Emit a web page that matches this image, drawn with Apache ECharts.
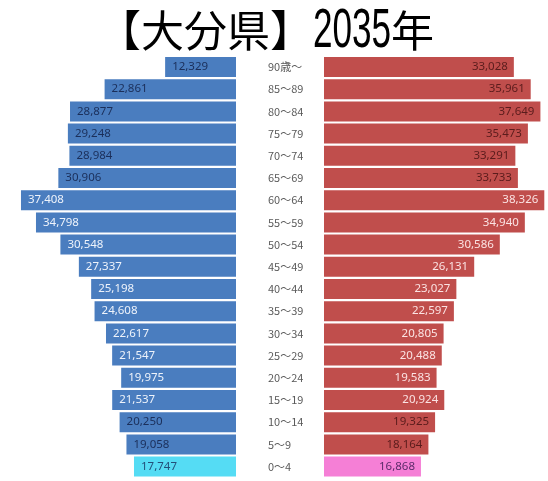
<!DOCTYPE html>
<html>
<head>
<meta charset="utf-8">
<script src="https://cdn.jsdelivr.net/npm/echarts@6/dist/echarts.min.js"></script>
<style>
  html, body { margin: 0; padding: 0; background: #ffffff; }
  #chart { width: 548px; height: 481px; }
</style>
</head>
<body>
<div id="chart"></div>
<script>
// Age groups, oldest first (drawn top to bottom)
const ageGroups = ['90歳～', '85～89', '80～84', '75～79', '70～74', '65～69', '60～64', '55～59',
  '50～54', '45～49', '40～44', '35～39', '30～34', '25～29', '20～24', '15～19', '10～14', '5～9', '0～4'];

// Population by age group (left side / right side)
const maleValues = [12329, 22861, 28877, 29248, 28984, 30906, 37408, 34798, 30548, 27337,
  25198, 24608, 22617, 21547, 19975, 21537, 20250, 19058, 17747];
const femaleValues = [33028, 35961, 37649, 35473, 33291, 33733, 38326, 34940, 30586, 26131,
  23027, 22597, 20805, 20488, 19583, 20924, 19325, 18164, 16868];

// Title pieces
const titlePrefix = '【大分県】';
const titleYear = '2035';
const titleSuffix = '年';

// Rows whose value labels are printed in the dark tone
const darkLabelRows = new Set(['90歳～', '85～89', '80～84', '75～79', '70～74', '65～69', '10～14', '5～9', '0～4']);
const youngestRow = '0～4';

const fmt = v => String(v).replace(/\B(?=(\d{3})+(?!\d))/g, ',');

const MAX_VALUE = 38500;
const GRID_W = 221.3;
const GRID_TOP = 55.9;
const GRID_H = 421.8;

function sideData(values, base, highlight, darkText, lightText, highlightText) {
  return values.map((v, i) => {
    const age = ageGroups[i];
    const item = { value: v };
    const isYoung = age === youngestRow;
    item.itemStyle = { color: isYoung ? highlight : base };
    item.label = { color: isYoung ? highlightText : (darkLabelRows.has(age) ? darkText : lightText) };
    return item;
  });
}

const chart = echarts.init(document.getElementById('chart'), null, { renderer: 'canvas' });

chart.setOption({
  backgroundColor: '#ffffff',
  animation: false,
  graphic: [
    {
      type: 'text', x: 98, y: 31,
      style: { text: titlePrefix, fontSize: 43, fontFamily: '"Noto Sans CJK JP"', fill: '#000000',
        align: 'left', verticalAlign: 'middle' }
    },
    {
      type: 'text', x: 313, y: 32, scaleX: 0.627,
      style: { text: titleYear, fontSize: 56, fontFamily: '"Liberation Sans"', fill: '#000000',
        align: 'left', verticalAlign: 'middle' }
    },
    {
      type: 'text', x: 391, y: 31,
      style: { text: titleSuffix, fontSize: 43, fontFamily: '"Noto Sans CJK JP"', fill: '#000000',
        align: 'left', verticalAlign: 'middle' }
    }
  ],
  grid: [
    { left: 236 - GRID_W, top: GRID_TOP, width: GRID_W, height: GRID_H },
    { left: 324, top: GRID_TOP, width: GRID_W, height: GRID_H }
  ],
  xAxis: [
    { type: 'value', gridIndex: 0, inverse: true, min: 0, max: MAX_VALUE, show: false },
    { type: 'value', gridIndex: 1, min: 0, max: MAX_VALUE, show: false }
  ],
  yAxis: [
    { type: 'category', gridIndex: 0, inverse: true, data: ageGroups, show: false },
    {
      type: 'category', gridIndex: 1, inverse: true, data: ageGroups,
      axisLine: { show: false }, axisTick: { show: false }, splitLine: { show: false },
      axisLabel: { margin: 56, align: 'left', color: '#5a5a5a', fontSize: 11,
        fontFamily: '"Noto Sans CJK JP"' }
    }
  ],
  series: [
    {
      type: 'bar', xAxisIndex: 0, yAxisIndex: 0, barCategoryGap: '10%',
      data: sideData(maleValues, '#4a7dbf', '#55dcf4', '#1b2f5a', '#eef3fb', '#24507a'),
      label: { show: true, position: 'insideLeft', distance: 7, fontSize: 11.5,
        fontFamily: '"Noto Sans"', formatter: p => fmt(p.value) }
    },
    {
      type: 'bar', xAxisIndex: 1, yAxisIndex: 1, barCategoryGap: '10%',
      data: sideData(femaleValues, '#c04e4c', '#f57fd6', '#5a1c1c', '#fbe3e3', '#5b2a6a'),
      label: { show: true, position: 'insideRight', distance: 6, fontSize: 11.5,
        fontFamily: '"Noto Sans"', formatter: p => fmt(p.value) }
    }
  ]
});
</script>
</body>
</html>
